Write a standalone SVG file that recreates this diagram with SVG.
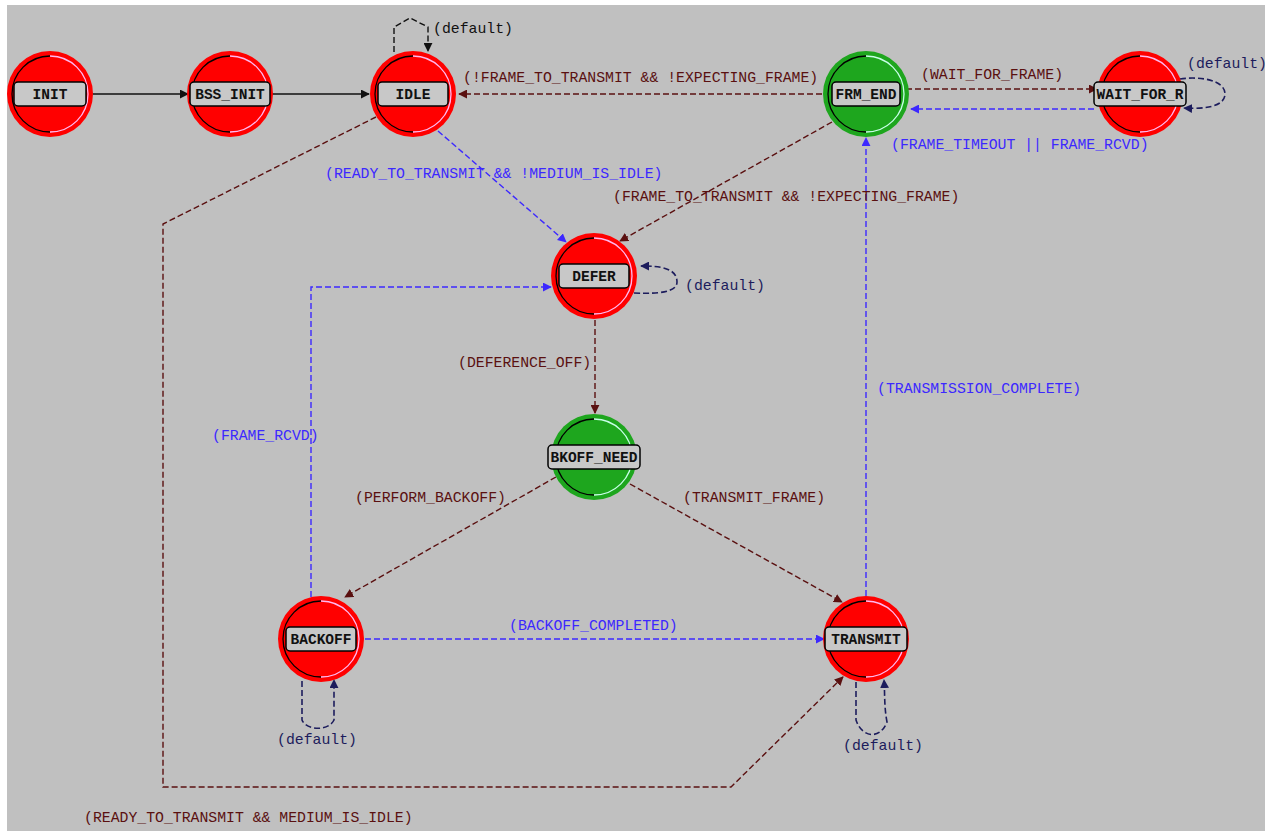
<svg xmlns="http://www.w3.org/2000/svg" width="1271" height="837" viewBox="0 0 1271 837">
<style>
.bg{fill:#c0c0c0}
.red{fill:#ff0000}
.grn{fill:#1ea61e}
.hiR{fill:none;stroke:#ffb8f0;stroke-width:1.3}
.hiG{fill:none;stroke:#c8ffe8;stroke-width:1.3}
.sh{fill:none;stroke:#000;stroke-width:1.3}
.box{fill:#c8c8c8;stroke:#000;stroke-width:1.5}
.nl{font-family:"Liberation Mono",monospace;font-size:14.5px;font-weight:bold;fill:#111;text-anchor:middle}
.tl{font-family:"Liberation Mono",monospace;font-size:14.8px}
.m{fill:#5a1010}
.b{fill:#3c28ff}
.n{fill:#1c1c5c}
.k{fill:#111}
.cm{fill:none;stroke:#5a1010;stroke-width:1.4;stroke-dasharray:6 3}
.cb{fill:none;stroke:#3c28ff;stroke-width:1.4;stroke-dasharray:6 3}
.cn{fill:none;stroke:#1c1c5c;stroke-width:1.6;stroke-dasharray:6 3}
.ck{fill:none;stroke:#111;stroke-width:1.4;stroke-dasharray:6 3}
.cs{fill:none;stroke:#111;stroke-width:1.4}
</style>
<defs>
<marker id="am" viewBox="0 0 10 10" refX="9" refY="5" markerWidth="9" markerHeight="9" markerUnits="userSpaceOnUse" orient="auto"><path d="M0,0L10,5L0,10z" fill="#5a1010"/></marker>
<marker id="ab" viewBox="0 0 10 10" refX="9" refY="5" markerWidth="9" markerHeight="9" markerUnits="userSpaceOnUse" orient="auto"><path d="M0,0L10,5L0,10z" fill="#3c28ff"/></marker>
<marker id="an" viewBox="0 0 10 10" refX="9" refY="5" markerWidth="9" markerHeight="9" markerUnits="userSpaceOnUse" orient="auto"><path d="M0,0L10,5L0,10z" fill="#1c1c5c"/></marker>
<marker id="ak" viewBox="0 0 10 10" refX="9" refY="5" markerWidth="9" markerHeight="9" markerUnits="userSpaceOnUse" orient="auto"><path d="M0,0L10,5L0,10z" fill="#111"/></marker>
</defs>
<rect x="7" y="5" width="1258" height="826" class="bg"/>

<g id="connectors">
<path class="cs" d="M93,94H188" marker-end="url(#ak)"/>
<path class="cs" d="M272,94H369" marker-end="url(#ak)"/>
<path class="ck" d="M394,52V27L410,18L428,27V51" marker-end="url(#ak)"/>
<path class="cm" d="M822,94H459" marker-end="url(#am)"/>
<path class="cm" d="M906,89H1097" marker-end="url(#am)"/>
<path class="cb" d="M1094,109H911" marker-end="url(#ab)"/>
<path class="cn" d="M1180,79C1200,76 1225,80 1225,94C1225,108 1200,109 1184,108" marker-end="url(#an)"/>
<path class="cb" d="M438,131L566,242" marker-end="url(#ab)"/>
<path class="cm" d="M832,122L620,241" marker-end="url(#am)"/>
<path class="cn" d="M634,293C660,294 677,292 677,282C677,268 660,266 641,266" marker-end="url(#an)"/>
<path class="cm" d="M595,320V413" marker-end="url(#am)"/>
<path class="cb" d="M311,597V287H551" marker-end="url(#ab)"/>
<path class="cm" d="M556,477L345,597" marker-end="url(#am)"/>
<path class="cm" d="M630,484L842,602" marker-end="url(#am)"/>
<path class="cb" d="M365,639H824" marker-end="url(#ab)"/>
<path class="cb" d="M866,596V138" marker-end="url(#ab)"/>
<path class="cm" d="M376,117L163,224V787H731L843,677" marker-end="url(#am)"/>
<path class="cn" d="M302,681V720C306,730 328,732 334,720V680" marker-end="url(#an)"/>
<path class="cn" d="M856,682V720C862,738 880,740 887,722C884,706 885,694 884,680" marker-end="url(#an)"/>
</g>

<g id="labels">
<text class="tl k" x="433" y="33">(default)</text>
<text class="tl m" x="463" y="82">(!FRAME_TO_TRANSMIT &amp;&amp; !EXPECTING_FRAME)</text>
<text class="tl m" x="921" y="79">(WAIT_FOR_FRAME)</text>
<text class="tl b" x="891" y="149">(FRAME_TIMEOUT || FRAME_RCVD)</text>
<text class="tl n" x="1187" y="68">(default)</text>
<text class="tl b" x="325" y="178">(READY_TO_TRANSMIT &amp;&amp; !MEDIUM_IS_IDLE)</text>
<text class="tl m" x="613" y="201">(FRAME_TO_TRANSMIT &amp;&amp; !EXPECTING_FRAME)</text>
<text class="tl n" x="685" y="290">(default)</text>
<text class="tl m" x="458" y="367">(DEFERENCE_OFF)</text>
<text class="tl b" x="877" y="393">(TRANSMISSION_COMPLETE)</text>
<text class="tl b" x="212" y="440">(FRAME_RCVD)</text>
<text class="tl m" x="355" y="502">(PERFORM_BACKOFF)</text>
<text class="tl m" x="683" y="502">(TRANSMIT_FRAME)</text>
<text class="tl b" x="509" y="630">(BACKOFF_COMPLETED)</text>
<text class="tl n" x="277" y="744">(default)</text>
<text class="tl n" x="843" y="750">(default)</text>
<text class="tl m" x="84" y="822">(READY_TO_TRANSMIT &amp;&amp; MEDIUM_IS_IDLE)</text>
</g>

<g id="INIT" transform="translate(50,94)">
<circle r="43" class="red"/><path class="hiR" d="M0,-38A38,38 0 0 1 0,38"/><path class="sh" d="M0,-38A38,38 0 0 0 0,38"/>
<rect x="-36" y="-12" width="72" height="24" rx="4" class="box"/><text class="nl" y="5">INIT</text>
</g>
<g id="BSS_INIT" transform="translate(230,94)">
<circle r="43" class="red"/><path class="hiR" d="M0,-38A38,38 0 0 1 0,38"/><path class="sh" d="M0,-38A38,38 0 0 0 0,38"/>
<rect x="-40" y="-12" width="80" height="24" rx="4" class="box"/><text class="nl" y="5">BSS_INIT</text>
</g>
<g id="IDLE" transform="translate(413,94)">
<circle r="43" class="red"/><path class="hiR" d="M0,-38A38,38 0 0 1 0,38"/><path class="sh" d="M0,-38A38,38 0 0 0 0,38"/>
<rect x="-35" y="-12" width="70" height="24" rx="4" class="box"/><text class="nl" y="5">IDLE</text>
</g>
<g id="FRM_END" transform="translate(866,94)">
<circle r="43" class="grn"/><path class="hiG" d="M0,-38A38,38 0 0 1 0,38"/><path class="sh" d="M0,-38A38,38 0 0 0 0,38"/>
<rect x="-34" y="-12" width="68" height="24" rx="4" class="box"/><text class="nl" y="5">FRM_END</text>
</g>
<g id="WAIT_FOR_R" transform="translate(1140,94)">
<circle r="43" class="red"/><path class="hiR" d="M0,-38A38,38 0 0 1 0,38"/><path class="sh" d="M0,-38A38,38 0 0 0 0,38"/>
<rect x="-46" y="-12" width="92" height="24" rx="4" class="box"/><text class="nl" y="5">WAIT_FOR_R</text>
</g>
<g id="DEFER" transform="translate(594,276)">
<circle r="43" class="red"/><path class="hiR" d="M0,-38A38,38 0 0 1 0,38"/><path class="sh" d="M0,-38A38,38 0 0 0 0,38"/>
<rect x="-35" y="-12" width="70" height="24" rx="4" class="box"/><text class="nl" y="5">DEFER</text>
</g>
<g id="BKOFF_NEED" transform="translate(594,457)">
<circle r="43" class="grn"/><path class="hiG" d="M0,-38A38,38 0 0 1 0,38"/><path class="sh" d="M0,-38A38,38 0 0 0 0,38"/>
<rect x="-46" y="-12" width="92" height="24" rx="4" class="box"/><text class="nl" y="5">BKOFF_NEED</text>
</g>
<g id="BACKOFF" transform="translate(321,639)">
<circle r="43" class="red"/><path class="hiR" d="M0,-38A38,38 0 0 1 0,38"/><path class="sh" d="M0,-38A38,38 0 0 0 0,38"/>
<rect x="-35" y="-12" width="70" height="24" rx="4" class="box"/><text class="nl" y="5">BACKOFF</text>
</g>
<g id="TRANSMIT" transform="translate(866,639)">
<circle r="43" class="red"/><path class="hiR" d="M0,-38A38,38 0 0 1 0,38"/><path class="sh" d="M0,-38A38,38 0 0 0 0,38"/>
<rect x="-41" y="-12" width="82" height="24" rx="4" class="box"/><text class="nl" y="5">TRANSMIT</text>
</g>
</svg>
